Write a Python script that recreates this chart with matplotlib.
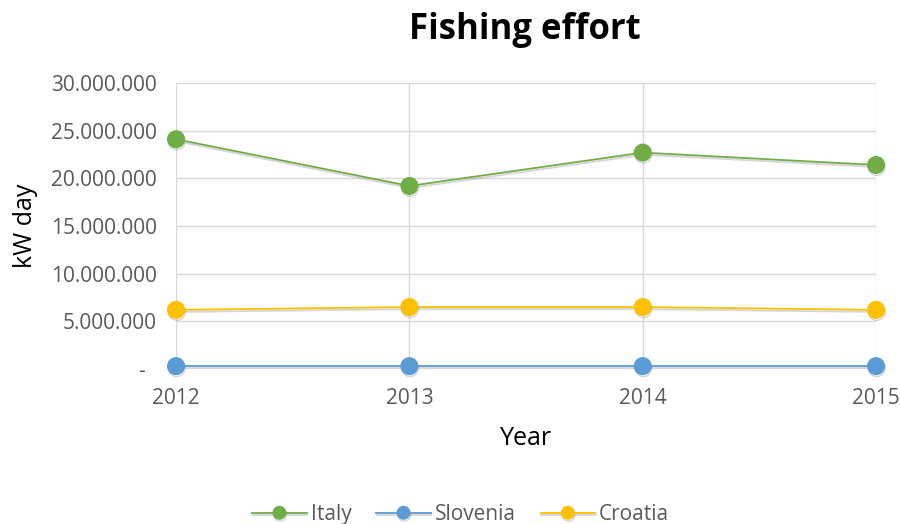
import matplotlib.pyplot as plt
import matplotlib.patheffects as pe
from matplotlib.ticker import FuncFormatter

years = [2012, 2013, 2014, 2015]
italy = [24100000, 19200000, 22700000, 21400000]
slovenia = [300000, 300000, 300000, 300000]
croatia = [6200000, 6500000, 6500000, 6200000]

series = [
    ("Italy", italy, "#70AD47"),
    ("Slovenia", slovenia, "#5B9BD5"),
    ("Croatia", croatia, "#FFC000"),
]

plt.rcParams["font.family"] = ["Open Sans", "DejaVu Sans"]
TXT = "#595959"

fig = plt.figure(figsize=(9, 5.24), dpi=100)
ax = fig.add_axes([0.1956, 0.2958, 0.7778, 0.5458])

shadow = [pe.SimpleLineShadow(offset=(0.5, -1.5), shadow_color="#888888", alpha=0.35),
          pe.Normal()]
for name, vals, col in series:
    ax.plot(years, vals, color=col, lw=1.3, marker="o", markersize=12,
            label=name, path_effects=shadow, zorder=3, clip_on=False)


def fmt(v, pos):
    if v == 0:
        return "-  "
    return f"{int(v):,}".replace(",", ".")


ax.set_xlim(2012, 2015)
ax.set_ylim(0, 30000000)
ax.set_xticks(years)
ax.set_yticks(range(0, 30000001, 5000000))
ax.yaxis.set_major_formatter(FuncFormatter(fmt))
ax.grid(True, color="#D9D9D9", lw=1)
ax.set_axisbelow(True)
for s in ax.spines.values():
    s.set_visible(False)
ax.tick_params(length=0, labelsize=15, labelcolor=TXT)
ax.tick_params(axis="x", pad=14)
ax.tick_params(axis="y", pad=14)

ax.set_xlabel("Year", fontsize=18, color="black", labelpad=12)
ax.set_ylabel("kW day", fontsize=18, color="black", labelpad=9)
fig.text(0.583, 0.943, "Fishing effort", ha="center", va="center",
         fontsize=25, fontweight="bold")

leg = fig.legend(loc="center", bbox_to_anchor=(0.512, 0.018), ncol=3, frameon=False,
                 fontsize=15, handlelength=2.6, columnspacing=1.2, handletextpad=0.2,
                 markerscale=0.75)
for t in leg.get_texts():
    t.set_color(TXT)

fig.savefig("out.png", dpi=100)
